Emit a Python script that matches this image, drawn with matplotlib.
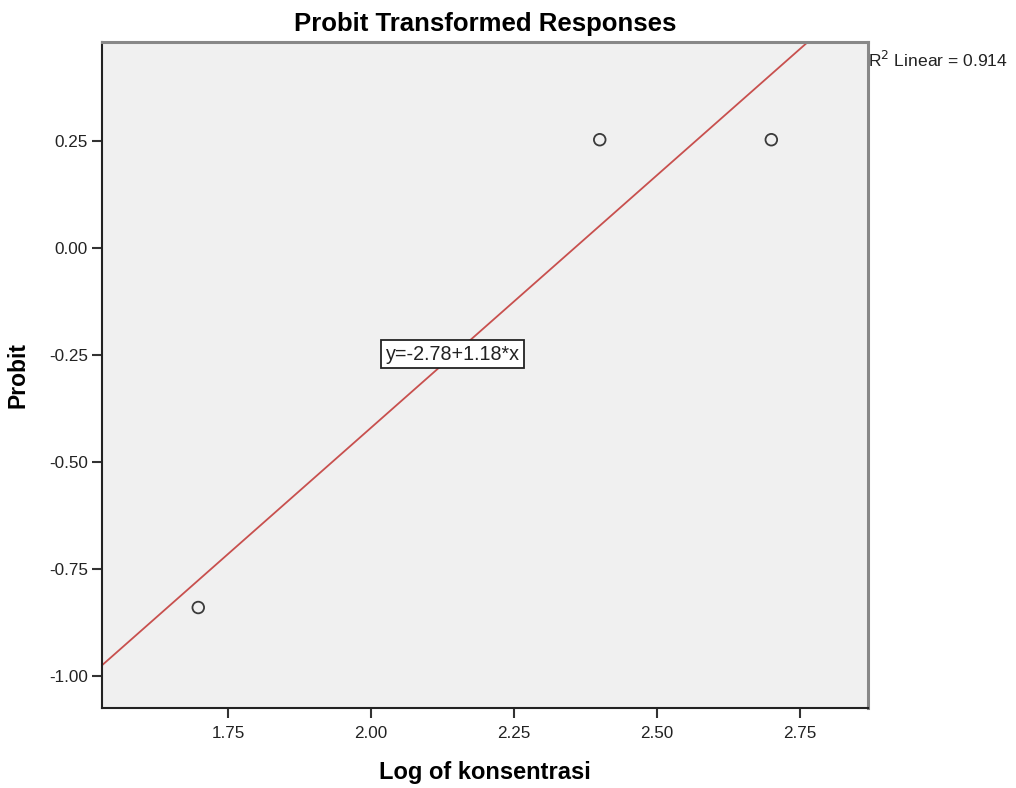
import matplotlib
matplotlib.use("Agg")
import matplotlib.pyplot as plt
import numpy as np

plt.rcParams['font.family'] = ['Liberation Sans', 'DejaVu Sans']

# data
log_konsentrasi = [1.698, 2.40, 2.70]
probit = [-0.84, 0.253, 0.253]
intercept = -2.78
slope = 1.18
r2 = 0.914

xticks = [1.75, 2.00, 2.25, 2.50, 2.75]
yticks = [-1.00, -0.75, -0.50, -0.25, 0.00, 0.25]

fig = plt.figure(figsize=(10.16, 7.88), dpi=100)
ax = fig.add_axes([0.1004, 0.1015, 0.7539, 0.8452])
ax.set_facecolor('#f0f0f0')

xlim = (1.5297, 2.869)
ylim = (-1.0748, 0.4813)

# regression line across the whole plot
xs = np.array(xlim)
ax.plot(xs, intercept + slope * xs, color='#c8504e', lw=1.3, zorder=2)

ax.scatter(log_konsentrasi, probit, s=70, facecolors='none', edgecolors='#3a3a3a', linewidths=1.3, zorder=3)

ax.set_xlim(*xlim)
ax.set_ylim(*ylim)
ax.set_xticks(xticks)
ax.set_xticklabels([f"{v:.2f}" for v in xticks])
ax.set_yticks(yticks)
ax.set_yticklabels([f"{v:.2f}" for v in yticks])
ax.tick_params(direction='out', length=7, width=1.5, color='#333333', labelsize=12.3, labelcolor='#222222')
ax.tick_params(axis='x', pad=6)
ax.tick_params(axis='y', pad=3)

for side in ['left', 'bottom']:
    ax.spines[side].set_linewidth(1.5)
    ax.spines[side].set_color('#222222')
for side in ['top', 'right']:
    ax.spines[side].set_linewidth(2.2)
    ax.spines[side].set_color('#888888')

ax.set_title('Probit Transformed Responses', fontsize=18.5, fontweight='bold', pad=8)
ax.set_xlabel('Log of konsentrasi', fontsize=17, fontweight='bold', labelpad=14)
ax.set_ylabel('Probit', fontsize=16.5, fontweight='bold', labelpad=14)

ax.text(2.143, -0.248, f"y={intercept:.2f}+{slope:.2f}*x", ha='center', va='center', fontsize=14.2,
        color='#222222', bbox=dict(boxstyle='square,pad=0.22', facecolor='white', edgecolor='#222222', lw=1.3), zorder=4)

ax.text(1.0, 0.973, f"R$^2$ Linear = {r2:.3f}", transform=ax.transAxes, ha='left', va='center',
        fontsize=12.6, color='#222222', clip_on=False)

fig.savefig('out.png', dpi=100)
